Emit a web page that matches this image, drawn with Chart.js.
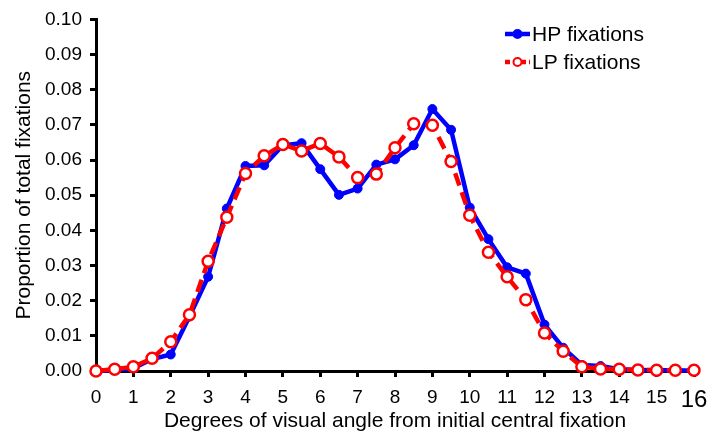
<!DOCTYPE html>
<html>
<head>
<meta charset="utf-8">
<script src="https://cdn.jsdelivr.net/npm/chart.js@4/dist/chart.umd.min.js"></script>
<style>
    html, body { margin: 0; padding: 0; background: #fff; }
    #wrap { width: 721px; height: 434px; }
</style>
</head>
<body>
<div id="wrap"><canvas id="c" width="721" height="434"></canvas></div>
<script>
// degrees from central fixation (0.5 deg bins)
const angles = [0, 0.5, 1, 1.5, 2, 2.5, 3, 3.5, 4, 4.5, 5, 5.5, 6, 6.5, 7, 7.5, 8,
    8.5, 9, 9.5, 10, 10.5, 11, 11.5, 12, 12.5, 13, 13.5, 14, 14.5, 15, 15.5, 16];
const hpFix = [0, 0.0002, 0.0008, 0.0034, 0.0047, 0.0155, 0.0268, 0.0462, 0.0583, 0.0585, 0.0642,
    0.0648, 0.0574, 0.0501, 0.0519, 0.0587, 0.0602, 0.0642, 0.0745, 0.0686, 0.0465, 0.0375,
    0.0295, 0.0277, 0.0132, 0.0066, 0.0017, 0.0014, 0.0005, 0.0003, 0.0002, 0.0002, 0.0001];
const lpFix = [0, 0.0005, 0.0012, 0.0036, 0.0083, 0.016, 0.0312, 0.0437, 0.0562, 0.0612, 0.0644,
    0.0626, 0.0647, 0.0609, 0.055, 0.056, 0.0635, 0.0703, 0.0699, 0.0596, 0.0443, 0.0338,
    0.0268, 0.0203, 0.0108, 0.0056, 0.0012, 0.0006, 0.0005, 0.0003, 0.0002, 0.0002, 0.0002];
const xTicks = [0, 1, 2, 3, 4, 5, 6, 7, 8, 9, 10, 11, 12, 13, 14, 15, 16];
const yTicks = [0, 0.01, 0.02, 0.03, 0.04, 0.05, 0.06, 0.07, 0.08, 0.09, 0.1];

const FONT = "'Liberation Sans', Arial, Helvetica, sans-serif";
const BLUE = '#0000ff';
const RED = '#ff0000';

const pts = (ys) => ys.map((y, i) => ({ x: angles[i], y }));

// legend drawn by hand: short line with marker in the middle, like the original
const sideLegend = {
    id: 'sideLegend',
    afterDraw(chart) {
        const { ctx } = chart;
        const rows = [
            { label: 'HP fixations', color: BLUE, dash: [], fill: BLUE, y: 34 },
            { label: 'LP fixations', color: RED, dash: [5, 3], fill: '#fff', y: 62 },
        ];
        ctx.save();
        rows.forEach((r) => {
            ctx.strokeStyle = r.color;
            ctx.lineWidth = 4.5;
            ctx.setLineDash(r.dash);
            ctx.beginPath();
            ctx.moveTo(505, r.y);
            ctx.lineTo(530, r.y);
            ctx.stroke();
            ctx.setLineDash([]);
            ctx.beginPath();
            ctx.arc(517.5, r.y, 4, 0, Math.PI * 2);
            ctx.fillStyle = r.fill;
            ctx.fill();
            ctx.lineWidth = 2;
            ctx.stroke();
            ctx.fillStyle = '#000';
            ctx.font = `21px ${FONT}`;
            ctx.textBaseline = 'middle';
            ctx.fillText(r.label, 532, r.y + 1);
        });
        ctx.restore();
    },
};

new Chart(document.getElementById('c'), {
    type: 'line',
    data: {
        datasets: [
            {
                label: 'HP fixations', data: pts(hpFix), order: 2,
                borderColor: BLUE, backgroundColor: BLUE, borderWidth: 4.5,
                pointRadius: 4.5, pointBorderWidth: 1, pointBackgroundColor: BLUE,
                tension: 0, clip: false,
            },
            {
                label: 'LP fixations', data: pts(lpFix), order: 1,
                borderColor: RED, backgroundColor: '#fff', borderWidth: 4.5, borderDash: [13, 7],
                pointRadius: 5.5, pointBorderWidth: 2.5, pointBackgroundColor: '#fff',
                tension: 0, clip: false,
            },
        ],
    },
    options: {
        responsive: false,
        animation: false,
        events: [],
        layout: { padding: { top: 16, right: 27, left: 0, bottom: 0 } },
        plugins: { legend: { display: false }, tooltip: { enabled: false } },
        scales: {
            x: {
                type: 'linear', min: 0, max: 16,
                afterBuildTicks: (s) => { s.ticks = xTicks.map((v) => ({ value: v })); },
                afterFit: (s) => { s.height = 63; },
                border: { display: true, color: '#000', width: 3 },
                grid: { display: true, drawOnChartArea: false, drawTicks: true, tickLength: 6, tickWidth: 3, tickColor: '#000' },
                ticks: {
                    color: '#000', padding: 9, maxRotation: 0,
                    font: (c) => ({ family: FONT, size: c.tick && c.tick.value === 16 ? 24 : 19 }),
                },
                title: { display: true, text: 'Degrees of visual angle from initial central fixation', color: '#000', font: { family: FONT, size: 21 }, padding: { top: 0, bottom: 0 } },
            },
            y: {
                min: 0, max: 0.1,
                afterBuildTicks: (s) => { s.ticks = yTicks.map((v) => ({ value: v })); },
                afterFit: (s) => { s.width = 96; },
                border: { display: true, color: '#000', width: 3 },
                grid: { display: true, drawOnChartArea: false, drawTicks: true, tickLength: 6, tickWidth: 3, tickColor: '#000' },
                ticks: { color: '#000', padding: 8, font: { family: FONT, size: 19 }, callback: (v) => v.toFixed(2) },
                title: { display: true, text: 'Proportion of total fixations', color: '#000', font: { family: FONT, size: 21 }, padding: { top: 12, bottom: 0 } },
            },
        },
    },
    plugins: [sideLegend],
});
</script>
</body>
</html>
